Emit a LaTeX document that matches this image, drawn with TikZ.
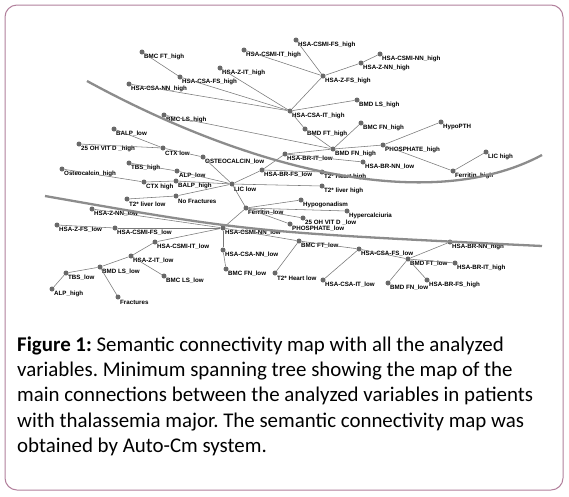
\documentclass[tikz,border=0pt]{standalone}
\usepackage{fontspec}
\setmainfont{Carlito}
\newfontfamily\labfont{Liberation Sans}
\definecolor{framec}{RGB}{178,128,156}
\definecolor{dotc}{RGB}{105,105,105}
\definecolor{edgec}{RGB}{120,120,120}
\definecolor{thickc}{RGB}{140,140,140}
\begin{document}
\frenchspacing
\begin{tikzpicture}[x=1pt,y=-1pt,
 vtx/.style={circle,fill=dotc,inner sep=0pt,minimum size=5pt},
 lab/.style={anchor=west,inner sep=0pt,font=\labfont\bfseries\fontsize{6.2}{7}\selectfont},
 edge/.style={draw=edgec,line width=0.55pt},
 sepline/.style={draw=thickc,line width=2.3pt},
 ]
\newcommand\V[4]{\node[vtx] (#1) at (#2,#3) {}; \node[lab] (#1-t) at (#2+2,#3+5) {#4};}
\useasboundingbox (0,0) rectangle (569,496);
\fill[white] (0,0) rectangle (569,496);
\draw[framec,line width=1pt,rounded corners=12pt] (5,5) rectangle (563,490);
% nodes
\V{BMCFTh}{142}{52}{BMC FT\_high}
\V{HCSAFSh}{180}{77}{HSA-CSA-FS\_high}
\V{HCSANNh}{129}{84}{HSA-CSA-NN\_high}
\V{HZITh}{220}{68}{HSA-Z-IT\_high}
\V{HCSMIITh}{244}{50}{HSA-CSMI-IT\_high}
\V{HCSMIFSh}{296}{40}{HSA-CSMI-FS\_high}
\V{HCSMINNh}{380}{54}{HSA-CSMI-NN\_high}
\V{HZNNh}{361}{63}{HSA-Z-NN\_high}
\V{HZFSh}{323}{76}{HSA-Z-FS\_high}
\V{HCSAITh}{290}{111}{HSA-CSA-IT\_high}
\V{BMDLSh}{357}{100}{BMD LS\_high}
\V{BMCFNh}{361}{123}{BMC FN\_high}
\V{BMDFTh}{305}{129}{BMD FT\_high}
\V{BMDFNh}{333}{149}{BMD FN\_high}
\V{BMCLSh}{164}{115}{BMC LS\_high}
\V{PHOSh}{383}{145}{PHOSPHATE\_high}
\V{HypoPTH}{441}{122}{HypoPTH}
\V{LIChigh}{486}{152}{LIC high}
\V{Ferrh}{453}{171}{Ferritin\_high}
\V{HBRITl}{285}{154}{HSA-BR-IT\_low}
\V{HBRNNl}{363}{162}{HSA-BR-NN\_low}
\V{HBRFSl}{262}{170}{HSA-BR-FS\_low}
\V{T2Hh}{322}{172}{T2* Heart high}
\V{LIClow}{232}{184}{LIC low}
\V{T2Lh}{322}{186}{T2* liver high}
\V{OSTl}{203}{157}{OSTEOCALCIN\_low}
\V{CTXl}{163}{148}{CTX low}
\V{BALPl}{114}{129}{BALP\_low}
\V{OHh}{79}{144}{25 OH VIT D \_high}
\V{TBSh}{129}{163}{TBS\_high}
\V{ALPl}{177}{171}{ALP\_low}
\V{Osteoh}{62}{169}{Osteocalcin\_high}
\V{CTXh}{144}{182}{CTX high}
\V{BALPh}{176}{181}{BALP\_high}
\V{T2Ll}{127}{199}{T2* liver low}
\V{NoFr}{176}{196}{No Fractures}
\V{Ferrl}{246}{208}{Ferritin\_low}
\V{Hypogon}{301}{200}{Hypogonadism}
\V{Hypercal}{347}{211}{Hypercalciuria}
\V{OHl}{303}{218}{25 OH VIT D \_low}
\V{PHOSl}{290}{224}{PHOSPHATE\_low}
\V{HCSMINNl}{223}{228}{HSA-CSMI-NN\_low}
\V{HZNNl}{92}{209}{HSA-Z-NN\_low}
\V{HZFSl}{57}{225}{HSA-Z-FS\_low}
\V{HCSMIFSl}{115}{228}{HSA-CSMI-FS\_low}
\V{HCSMIITl}{155}{242}{HSA-CSMI-IT\_low}
\V{HZITl}{131}{256}{HSA-Z-IT\_low}
\V{BMDLSl}{100}{267}{BMD LS\_low}
\V{TBSl}{66}{273}{TBS\_low}
\V{BMCLSl}{164}{276}{BMC LS\_low}
\V{ALPh}{52}{289}{ALP\_high}
\V{Fract}{118}{297}{Fractures}
\V{HCSANNl}{223}{250}{HSA-CSA-NN\_low}
\V{BMCFNl}{226}{269}{BMC FN\_low}
\V{BMCFTl}{299}{241}{BMC FT\_low}
\V{T2Hl}{275}{273}{T2* Heart low}
\V{HCSAFSl}{359}{249}{HSA-CSA-FS\_low}
\V{HCSAITl}{323}{280}{HSA-CSA-IT\_low}
\V{BMDFTl}{408}{259}{BMD FT\_low}
\V{HBRNNh}{450}{242}{HSA-BR-NN\_high}
\V{HBRITh}{455}{263}{HSA-BR-IT\_high}
\V{BMDFNl}{388}{283}{BMD FN\_low}
\V{HBRFSh}{427}{280}{HSA-BR-FS\_high}
% edges
\foreach \a/\b in {BMCFTh/HCSAFSh, HCSAFSh/HCSAITh, HCSANNh/HCSAITh, HZITh/HCSAITh,
  HCSMIITh/HZFSh, HCSMIFSh/HZFSh, HCSMINNh/HZNNh, HZNNh/HZFSh, HZFSh/HCSAITh,
  HCSAITh/BMDLSh, HCSAITh/BMDFTh, BMDFTh/BMDFNh, BMCFNh/BMDFNh, BMCLSh/BMDFNh,
  BMDFNh/PHOSh, PHOSh/HypoPTH, PHOSh/Ferrh, Ferrh/LIChigh, BMDFNh/HBRITl,
  HBRITl/HBRNNl, HBRITl/HBRFSl, HBRFSl/T2Hh, HBRFSl/LIClow, LIClow/T2Lh,
  LIClow/OSTl, OSTl/CTXl, CTXl/BALPl, CTXl/OHh, LIClow/ALPl, ALPl/TBSh,
  LIClow/BALPh, BALPh/CTXh, CTXh/Osteoh, LIClow/NoFr, NoFr/T2Ll, LIClow/Ferrl,
  Ferrl/Hypogon, Ferrl/Hypercal, Ferrl/OHl, Ferrl/PHOSl, Ferrl/HCSMINNl,
  HCSMINNl/HZNNl, HCSMINNl/HCSMIFSl, HCSMIFSl/HZFSl, HCSMINNl/HCSMIITl,
  HCSMIITl/HZITl, HZITl/BMDLSl, HZITl/BMCLSl, BMDLSl/TBSl, TBSl/ALPh,
  BMDLSl/Fract, HCSMINNl/HCSANNl, HCSANNl/BMCFNl, HCSMINNl/BMCFTl, BMCFTl/T2Hl,
  BMCFTl/HCSAFSl, HCSAFSl/HCSAITl, HCSAFSl/BMDFTl, BMDFTl/HBRNNh, BMDFTl/HBRITh,
  BMDFTl/BMDFNl, BMDFTl/HBRFSh}
  \draw[edge] (\a) -- (\b);
% separating curves
\draw[sepline] (87,81) .. controls (250,170) and (430,215) .. (542,155);
\draw[sepline] (45,196) .. controls (250,232) .. (542,246);
% caption
\node[anchor=base west,inner sep=0pt] (cap) at (17,351) {\parbox[t]{550pt}{\fontsize{20.9}{25.4}\selectfont\raggedright
\textbf{Figure 1:} Semantic connectivity map with all the analyzed\\
variables. Minimum spanning tree showing the map of the\\
main connections between the analyzed variables in patients\\
with thalassemia major. The semantic connectivity map was\\
obtained by Auto-Cm system.}};
\end{tikzpicture}
\end{document}
